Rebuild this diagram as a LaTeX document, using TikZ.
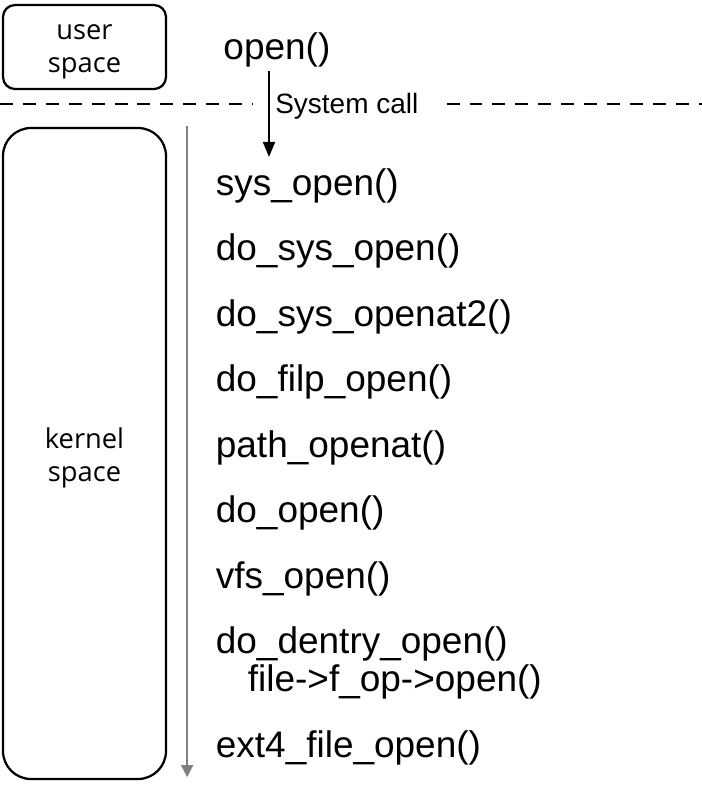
\documentclass[tikz,border=0pt]{standalone}
\usepackage{fontspec}
\setmainfont{Liberation Sans}
\newfontfamily\boxfont{Open Sans}
\usetikzlibrary{arrows.meta, positioning}
\definecolor{c1}{HTML}{7F7F7F}

\begin{document}
\begin{tikzpicture}[
  x=1cm, y=1cm, line cap=butt, line join=round,
  fn/.style={font=\fontsize{26.3}{30}\selectfont, inner sep=0pt, anchor=base west},
  spbox/.style={draw=black, line width=1.6pt, align=center, inner sep=0pt,
                font=\boxfont\fontsize{19.4}{23.5}\selectfont, minimum width=4.075cm},
  lb/.style={font=\fontsize{19.9}{23}\selectfont, inner xsep=0.15cm, inner ysep=0pt,
             anchor=base west},
  sep/.style={draw=black, line width=1.4pt, dash pattern=on 9.2pt off 7.1pt},
  fl/.style={-{Triangle[length=3.75mm,width=3mm]}, draw=black, line width=1.4pt},
  gl/.style={-{Triangle[length=3mm,width=3mm]}, draw=c1, line width=1.1pt},
]
\useasboundingbox (0,0) rectangle (17.55,-19.875);

\node[spbox, minimum height=2.1cm, rounded corners=0.3cm] (user) at (2.1125,-1.175) {};
\node[spbox, draw=none, minimum width=0pt] at ([yshift=-0.12cm]user.center) {user\\space};
\node[spbox, minimum height=16.275cm, rounded corners=0.7cm] (kern) at (2.1125,-11.3375) {};
\node[spbox, draw=none, minimum width=0pt] at ([yshift=-0.1cm]kern.center) {kernel\\space};

\node[fn] (open) at (5.58,-1.475) {open()};
\node[lb] (call) at (6.725,-2.825) {System call};

\coordinate (sepl) at (0,-2.6);
\coordinate (sepr) at (17.55,-2.6);
\draw[sep] (sepl) -- ([xshift=-0.4cm]call.west |- sepl);
\draw[sep] ([xshift=0.55cm]call.east |- sepr) -- (sepr);

\node[fn] (f1) at (5.39,-4.875)   {sys\_open()};
\node[fn] (f2) at (5.39,-6.5125)  {do\_sys\_open()};
\node[fn] (f3) at (5.39,-8.15)    {do\_sys\_openat2()};
\node[fn] (f4) at (5.39,-9.7875)  {do\_filp\_open()};
\node[fn] (f5) at (5.39,-11.425)  {path\_openat()};
\node[fn] (f6) at (5.39,-13.0625) {do\_open()};
\node[fn] (f7) at (5.39,-14.7)    {vfs\_open()};
\node[fn] (f8) at (5.39,-16.3375) {do\_dentry\_open()};
\node[fn] (f8b) at (6.19,-17.2875) {file->f\_op->open()};
\node[fn] (f9) at (5.39,-18.925)  {ext4\_file\_open()};

\draw[fl, shorten <=3pt, shorten >=0.275cm] (open.south -| call.west) -- (f1.north -| call.west);
\draw[gl, shorten >=0.075cm] ([xshift=0.5cm,yshift=0.025cm]kern.north east) -- ([xshift=0.5cm]kern.south east);
\end{tikzpicture}
\end{document}
